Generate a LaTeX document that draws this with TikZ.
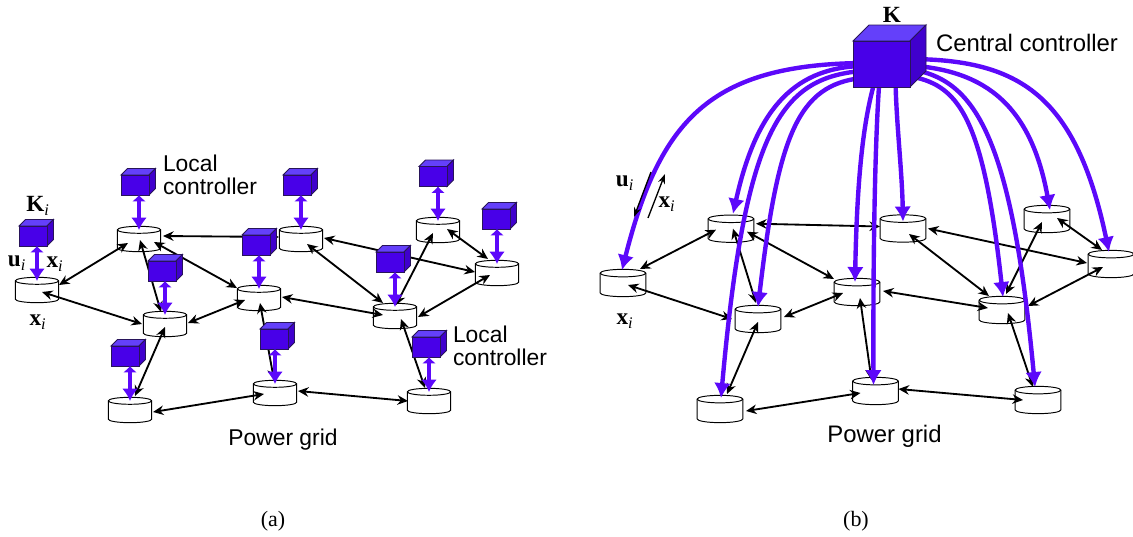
\documentclass[tikz,border=0pt]{standalone}
\usepackage{fontspec}
\setmainfont{Liberation Sans}
\newfontfamily\capfont{Liberation Serif}
\usetikzlibrary{arrows, arrows.meta}

\definecolor{ctrlfront}{RGB}{72,0,232}
\definecolor{ctrltop}{RGB}{100,64,250}
\definecolor{ctrlside}{RGB}{64,0,205}
\definecolor{ctrlline}{RGB}{40,20,90}
\definecolor{ctrlarrow}{RGB}{92,8,250}

\newcommand{\sig}[2]{{\capfont\bfseries #1}\textsubscript{\capfont\itshape #2}}

\tikzset{
	bus/.style 2 args={inner sep=0pt, outer sep=0pt, minimum width=#1*.04cm, minimum height=#2*.04cm,
		append after command={\pgfextra{
			\draw[line width=.55pt, fill=white] ([shift={(-#1,-#2)}]\tikzlastnode.center) -- ++(0,2*#2) arc[start angle=180, end angle=360, x radius=#1*.02cm, y radius=#2*.0076cm] -- ++(0,-2*#2) arc[start angle=0, end angle=180, x radius=#1*.02cm, y radius=#2*.0076cm] -- cycle;
			\draw[line width=.55pt] ([shift={(-#1,-#2)}]\tikzlastnode.center) arc[start angle=180, end angle=360, x radius=#1*.02cm, y radius=#2*.0076cm];
		}}},
	ctrlbox/.style n args={3}{draw=ctrlline, fill=ctrlfront, line width=.5pt, inner sep=0pt, outer sep=0pt, minimum width=#1, minimum height=#2,
		append after command={\pgfextra{
			\draw[draw=ctrlline, line width=.5pt, fill=ctrltop] (\tikzlastnode.north west) -- ++(#3,-#3) -- ([shift={(#3,-#3)}]\tikzlastnode.north east) -- (\tikzlastnode.north east) -- cycle;
			\draw[draw=ctrlline, line width=.5pt, fill=ctrlside] (\tikzlastnode.north east) -- ++(#3,-#3) -- ([shift={(#3,-#3)}]\tikzlastnode.south east) -- (\tikzlastnode.south east) -- cycle;
		}}},
	gridlink/.style={<->, >={Stealth[length=6pt,width=5.4pt]}, line width=1.05pt},
	localarrow/.style={{Latex[length=3.6pt,width=8pt]}-{Latex[length=7pt,width=9pt]}, color=ctrlarrow, line width=2.7pt},
	centralarrow/.style={-{Latex[length=8.5pt,width=9.5pt]}, color=ctrlarrow, line width=2.5pt},
	smallarrow/.style={->, >={Stealth[length=5.5pt,width=4pt]}, line width=.75pt},
	lbl/.style={font=\fontsize{13}{13.2}\selectfont, inner sep=0pt, outer sep=0pt},
	lblbig/.style={font=\fontsize{13.6}{14}\selectfont, inner sep=0pt, outer sep=0pt},
	serif/.style={font=\fontsize{13.2}{14}\selectfont\capfont, inner sep=0pt, outer sep=0pt},
	caption/.style={font=\fontsize{12.5}{13}\selectfont\capfont, inner sep=0pt, outer sep=0pt}
}

\begin{document}
\begin{tikzpicture}[x=.02cm, y=-.02cm]
	\useasboundingbox (0,0) rectangle (1133,537);

	% left picture, the grid
	\foreach \name/\x/\y in {A/37/290, B/139/239, C/165/324, D/130/410, E/259/298, F/275/393, G/301/239, H/395/316, I/438/230, J/497/273, K/429/401}
		\node[bus={21.7}{9.2}] (\name) at (\x,\y) {};

	\foreach \from/\fx/\fy/\to/\tx/\ty in {A/22/-5/B/-11/4, A/5/2/C/-23/0, B/1/1/C/-4/-12, B/15/3/E/-22/-10, C/23/-1/E/-14/2, C/0/3/D/5/-14, D/23/2/F/-11/1, E/1/5/F/-1/-13, G/-22/-2/B/24/-3, G/6/5/H/-12/-13, G/23/-1/J/-22/-1, E/23/-1/H/-12/-1, H/1/-11/I/-5/3, H/23/1/J/-7/2, I/9/-1/J/-9/-14, H/6/3/K/-4/-13, F/23/-2/K/-21/0}
		\draw[gridlink] ([shift={(\fx,\fy)}]\from.center) -- ([shift={(\tx,\ty)}]\to.center);

	% local controllers
	\foreach \name/\x/\y in {A/33/236, B/135/185, C/162/271, D/125/356, E/256/245, F/274/339, G/297/185, H/390/262, I/433/176.5, J/496/219, K/426/347} {
		\node[ctrlbox={.56cm}{.4cm}{6.5}] (c\name) at (\x,\y) {};
		\draw[localarrow] (c\name.south -| \name.center) -- ([shift={(0,-9)}]\name.center);
	}

	\node[lbl, align=left, anchor=west] (localtop) at (163,174.5) {Local\\controller};
	\node[lbl, align=left, anchor=west] (localbot) at (453,346) {Local\\controller};
	\node[lbl] (gridleft) at (283,440) {Power grid};
	\node[serif] (keyleft) at (38,206) {\sig{K}{i}};
	\node[serif] (uleft) at (17,263) {\sig{u}{i}};
	\node[serif] (xleft) at (55,264) {\sig{x}{i}};
	\node[serif] (xbelow) at (38,322) {\sig{x}{i}};
	\node[caption] (capa) at (273,521) {(a)};

	% right picture, the grid
	\foreach \name/\x/\y in {rA/623/283, rB/731/228.7, rC/758/319, rD/720/409, rE/857/292, rF/875.5/391, rG/903/228.5, rH/1002/310, rI/1047/219, rJ/1111/264, rK/1038/400}
		\node[bus={22.9}{9.9}] (\name) at (\x,\y) {};

	\foreach \from/\fx/\fy/\to/\tx/\ty in {rA/17/-14/rB/-15/1, rA/5/2/rC/-26/0, rB/2/0/rC/-2/-16, rB/16/3/rE/-23/-13, rC/26/-2/rE/-14/1, rC/0/3/rD/7/-15, rD/26/2/rF/-15/2, rE/3/6/rF/-4/-11, rG/-23/-2/rB/25/-5, rG/6/5.5/rH/-13/-14, rG/25/0/rJ/-24/-1, rE/26/-1/rH/-14/-2, rH/4/-16/rI/-5/3, rH/26/-4/rJ/-8/3, rI/10/-1/rJ/-9/-14, rH/6/3/rK/-5/-13, rF/23/-2/rK/-15/0}
		\draw[gridlink] ([shift={(\fx,\fy)}]\from.center) -- ([shift={(\tx,\ty)}]\to.center);

	% central controller and its links
	\coordinate (central) at (881.5,64);
	\draw[centralarrow] ([shift={(-20,-1)}]central) .. controls (710,65) and (660,120) .. ([shift={(-1,-13)}]rA.center);
	\draw[centralarrow] ([shift={(-20,2)}]central) .. controls (790,68) and (755,115) .. ([shift={(2,-15)}]rB.center);
	\draw[centralarrow] ([shift={(-20,7)}]central) .. controls (780,78) and (745,130) .. ([shift={(1,-11)}]rD.center);
	\draw[centralarrow] ([shift={(-20,14)}]central) .. controls (798,85) and (778,135) .. ([shift={(0,-12)}]rC.center);
	\draw[centralarrow] ([shift={(-6,15)}]central) .. controls (863,120) and (857,180) .. ([shift={(-2,-10)}]rE.center);
	\draw[centralarrow] ([shift={(-2,15)}]central) .. controls (875,140) and (873,250) .. ([shift={(-2,-6)}]rF.center);
	\draw[centralarrow] ([shift={(14,15)}]central) .. controls (896,120) and (902,170) .. ([shift={(0,-7)}]rG.center);
	\draw[centralarrow] ([shift={(20,1)}]central) .. controls (980,68) and (1030,100) .. ([shift={(3,-9)}]rI.center);
	\draw[centralarrow] ([shift={(20,-5)}]central) .. controls (1015,58) and (1075,90) .. ([shift={(-2,-12)}]rJ.center);
	\draw[centralarrow] ([shift={(20,4)}]central) .. controls (970,75) and (1010,120) .. ([shift={(-3,-13)}]rK.center);
	\draw[centralarrow] ([shift={(20,11)}]central) .. controls (955,82) and (982,105) .. ([shift={(1,-13)}]rH.center);
	\node[ctrlbox={1.14cm}{.92cm}{16}] (cube) at (central) {};

	\coordinate (utail) at (651,172);
	\coordinate (uhead) at (634,217);
	\coordinate (xtail) at (648,218);
	\coordinate (xhead) at (665,174);
	\draw[smallarrow] (utail) -- (uhead);
	\draw[smallarrow] (xtail) -- (xhead);

	\node[lblbig, anchor=west] (centrallabel) at (936,43) {Central controller};
	\node[lblbig] (gridright) at (884.5,436) {Power grid};
	\node[serif] (keyright) at (892,15) {{\bfseries K}};
	\node[serif] (uright) at (625,183) {\sig{u}{i}};
	\node[serif] (xright) at (667,204) {\sig{x}{i}};
	\node[serif] (xrightbelow) at (625,321) {\sig{x}{i}};
	\node[caption] (capb) at (856,521) {(b)};
\end{tikzpicture}
\end{document}
